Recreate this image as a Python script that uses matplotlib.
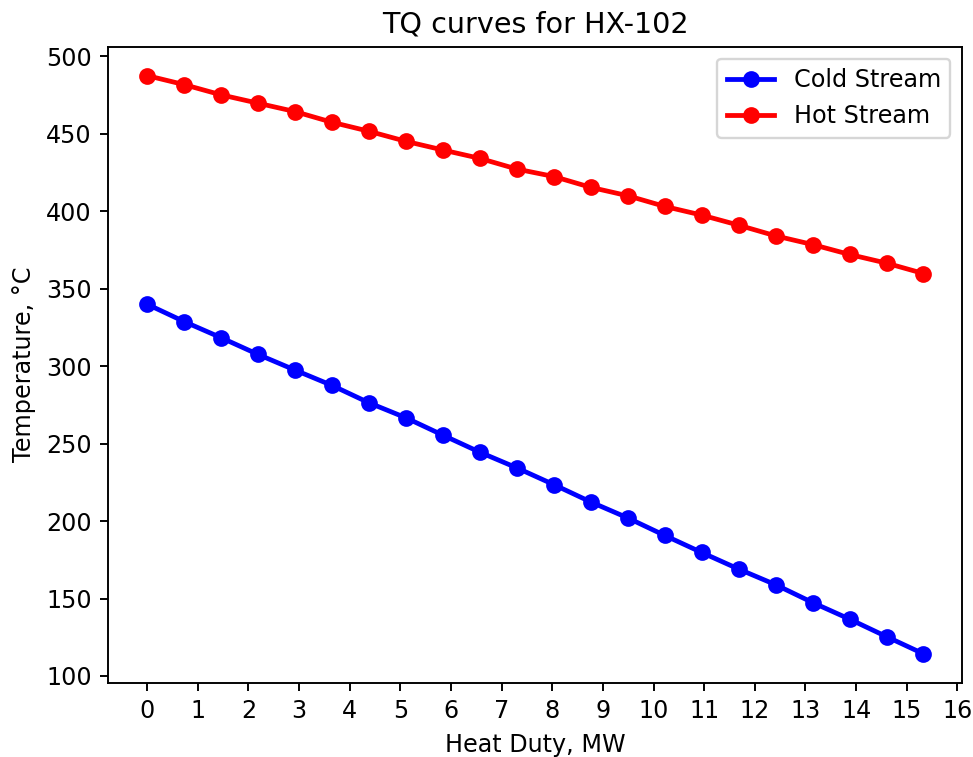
import matplotlib
matplotlib.use('Agg')
import matplotlib.pyplot as plt

## TQ curve data for HX-102
heat_duty = [0.00, 0.73, 1.46, 2.19, 2.92, 3.65, 4.38, 5.11, 5.84, 6.57, 7.30,
             8.03, 8.76, 9.49, 10.22, 10.95, 11.68, 12.41, 13.14, 13.87, 14.60, 15.33]
cold_temp = [339.9, 328.7, 318.3, 307.5, 297.4, 287.5, 276.3, 266.6, 255.4, 244.4, 234.3,
             223.5, 212.3, 202.0, 190.7, 179.7, 169.0, 158.9, 147.4, 136.7, 125.4, 114.3]
hot_temp = [487.4, 481.6, 475.0, 469.6, 464.2, 457.3, 451.5, 445.0, 439.4, 434.0, 427.1,
            422.3, 415.3, 409.9, 403.0, 397.4, 390.9, 384.0, 378.4, 372.0, 366.4, 359.7]
xticks = list(range(0, 17))

dpi = 172
fig = plt.figure(figsize=(973 / dpi, 757 / dpi), dpi=dpi)
ax = fig.add_subplot(111)
fig.subplots_adjust(left=0.1113, right=0.989, top=0.9383, bottom=0.0981)

ax.plot(heat_duty, cold_temp, 'o-', color='blue', lw=2, label='Cold Stream')
ax.plot(heat_duty, hot_temp, 'o-', color='red', lw=2, label='Hot Stream')
ax.set_xticks(xticks)
ax.set_xlabel('Heat Duty, MW')
ax.set_ylabel('Temperature, °C')
ax.set_title('TQ curves for HX-102')
ax.legend(loc='upper right')

fig.savefig('out.png', dpi=dpi)
